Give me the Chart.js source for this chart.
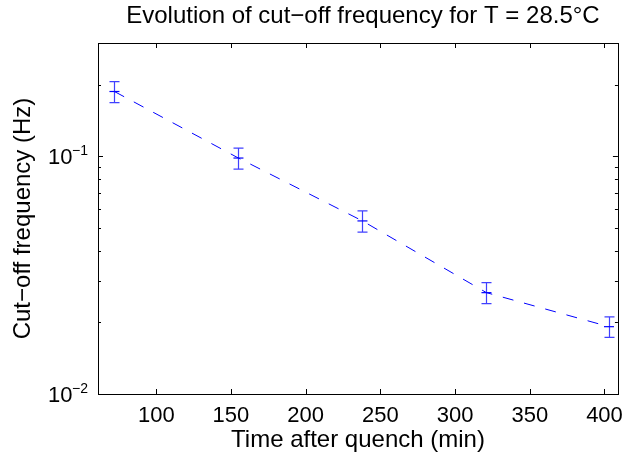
<!DOCTYPE html>
<html>
<head>
<meta charset="utf-8">
<script src="https://cdn.jsdelivr.net/npm/chart.js@4/dist/chart.umd.min.js"></script>
<style>
  html, body { margin: 0; padding: 0; background: #fff; }
  #wrap { width: 632px; height: 460px; }
</style>
</head>
<body>
<div id="wrap"><canvas id="myChart" width="632" height="460"></canvas></div>
<script>
const titleText = "Evolution of cut\u2212off frequency for T = 28.5\u00b0C";
const xLabel = "Time after quench (min)";
const yLabel = "Cut\u2212off frequency (Hz)";

const times = [72, 155, 238, 321, 403];
const cutoff = [0.1875, 0.0984, 0.0535, 0.0267, 0.0192];
const cutoffErr = [0.019, 0.010, 0.0055, 0.0027, 0.0019];

const xTicks = [100, 150, 200, 250, 300, 350, 400];
const yTicks = [0.01, 0.1];
const yTickLabels = [["10", "\u22122"], ["10", "\u22121"]];
const yMinorTicks = [0.02, 0.03, 0.04, 0.05, 0.06, 0.07, 0.08, 0.09, 0.2, 0.3];

const FONT = "'Liberation Sans', Arial, Helvetica, sans-serif";
const BLUE = "#0000ff";

// error bars, box, inward ticks, y labels, title
const matlabLook = {
  id: "matlabLook",
  afterDatasetsDraw(chart) {
    const ctx = chart.ctx;
    const xs = chart.scales.x;
    const ys = chart.scales.y;
    ctx.save();
    ctx.strokeStyle = "rgba(0,0,255,0.75)";
    ctx.lineWidth = 1.2;
    for (let i = 0; i < times.length; i++) {
      const px = Math.round(xs.getPixelForValue(times[i])) + 0.5;
      const top = ys.getPixelForValue(cutoff[i] + cutoffErr[i]);
      const bot = ys.getPixelForValue(cutoff[i] - cutoffErr[i]);
      ctx.beginPath();
      ctx.moveTo(px, top);
      ctx.lineTo(px, bot);
      ctx.moveTo(px - 5, top);
      ctx.lineTo(px + 5, top);
      ctx.moveTo(px - 5, bot);
      ctx.lineTo(px + 5, bot);
      ctx.stroke();
    }
    ctx.restore();
  },
  afterDraw(chart) {
    const ctx = chart.ctx;
    const a = chart.chartArea;
    const xs = chart.scales.x;
    const ys = chart.scales.y;
    ctx.save();
    ctx.strokeStyle = "#000";
    ctx.lineWidth = 1;
    ctx.strokeRect(Math.round(a.left) + 0.5, Math.round(a.top) + 0.5,
      Math.round(a.right - a.left), Math.round(a.bottom - a.top));
    ctx.beginPath();
    xTicks.forEach(v => {
      const px = Math.round(xs.getPixelForValue(v)) + 0.5;
      ctx.moveTo(px, a.bottom);
      ctx.lineTo(px, a.bottom - 5);
      ctx.moveTo(px, a.top);
      ctx.lineTo(px, a.top + 5);
    });
    yTicks.forEach(v => {
      const py = Math.round(ys.getPixelForValue(v)) + 0.5;
      ctx.moveTo(a.left, py);
      ctx.lineTo(a.left + 5, py);
      ctx.moveTo(a.right, py);
      ctx.lineTo(a.right - 5, py);
    });
    yMinorTicks.forEach(v => {
      const py = Math.round(ys.getPixelForValue(v)) + 0.5;
      ctx.moveTo(a.left, py);
      ctx.lineTo(a.left + 3, py);
      ctx.moveTo(a.right, py);
      ctx.lineTo(a.right - 3, py);
    });
    ctx.stroke();

    ctx.fillStyle = "#000";
    ctx.textBaseline = "middle";
    yTicks.forEach((v, i) => {
      const py = ys.getPixelForValue(v);
      ctx.font = "22px " + FONT;
      ctx.textAlign = "left";
      ctx.fillText(yTickLabels[i][0], 48, py + 2);
      ctx.font = "14px " + FONT;
      ctx.fillText(yTickLabels[i][1], 72, py - 5);
    });

    ctx.font = "24px " + FONT;
    ctx.textAlign = "center";
    ctx.fillText(titleText, (a.left + a.right) / 2 + 5, 16);
    ctx.restore();
  }
};

new Chart(document.getElementById("myChart"), {
  type: "line",
  data: {
    datasets: [{
      data: times.map((t, i) => ({ x: t, y: cutoff[i] })),
      borderColor: BLUE,
      borderWidth: 1,
      borderDash: [11, 11],
      pointStyle: "line",
      pointRadius: 5,
      pointBorderColor: BLUE,
      pointBorderWidth: 1.2,
      tension: 0,
      fill: false
    }]
  },
  plugins: [matlabLook],
  options: {
    responsive: false,
    animation: false,
    layout: { padding: { top: 43, right: 6, left: 0, bottom: 0 } },
    plugins: {
      legend: { display: false },
      tooltip: { enabled: false },
      title: { display: false }
    },
    scales: {
      x: {
        type: "linear",
        min: 61,
        max: 409,
        afterBuildTicks: s => { s.ticks = xTicks.map(v => ({ value: v })); },
        afterFit: s => { s.height = 66; },
        grid: { display: false, drawTicks: false },
        border: { display: false },
        ticks: { color: "#000", font: { family: FONT, size: 22 }, padding: 9, maxRotation: 0 },
        title: {
          display: true, text: xLabel, color: "#000",
          font: { family: FONT, size: 24 }, padding: { top: 0, bottom: 5 }
        }
      },
      y: {
        type: "logarithmic",
        min: 0.01,
        max: 0.3,
        afterBuildTicks: s => { s.ticks = yTicks.map(v => ({ value: v })); },
        afterFit: s => { s.width = 98; },
        grid: { display: false, drawTicks: false },
        border: { display: false },
        ticks: { display: false },
        title: {
          display: true, text: yLabel, color: "#000",
          font: { family: FONT, size: 24 }, padding: { top: 9, bottom: 0 }
        }
      }
    }
  }
});
</script>
</body>
</html>
